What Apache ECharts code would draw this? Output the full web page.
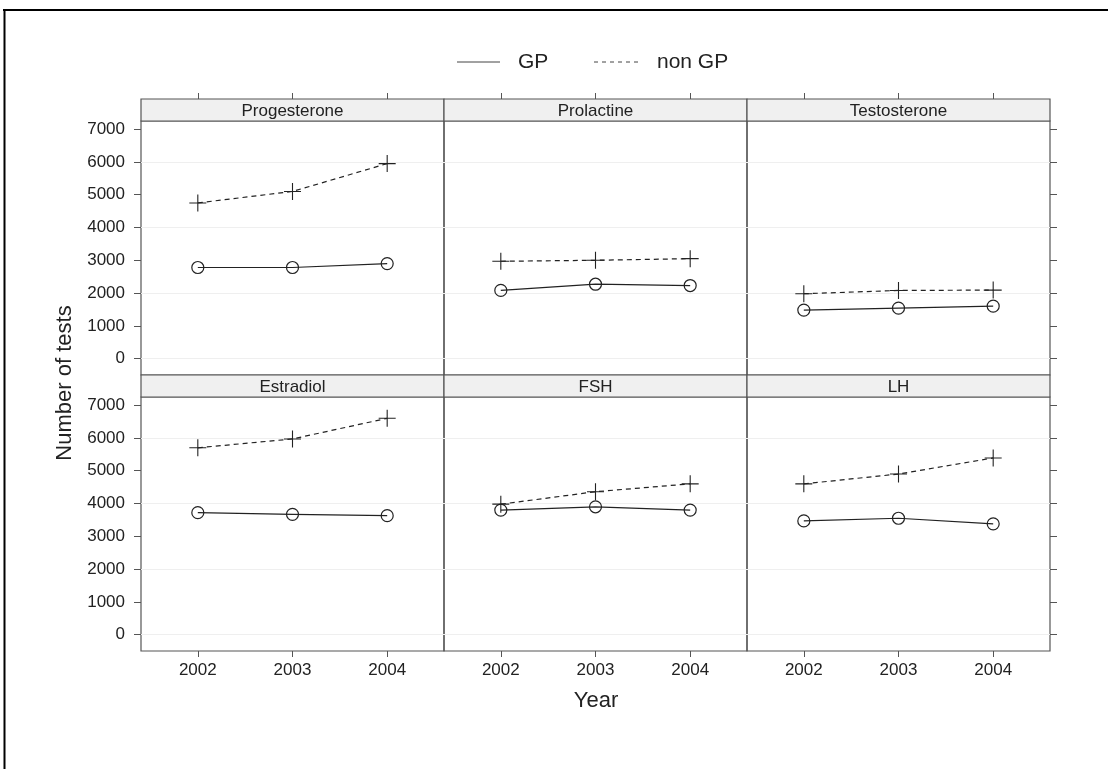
<!DOCTYPE html>
<html>
<head>
<meta charset="utf-8">
<script src="https://cdn.jsdelivr.net/npm/echarts@6/dist/echarts.min.js"></script>
<style>
  html, body { margin: 0; padding: 0; background: #ffffff; }
  #chart { width: 1108px; height: 769px; }
</style>
</head>
<body>
<div id="chart"></div>
<script>
// Yearly number of hormone tests requested by GPs and by other requesters
const years = [2002, 2003, 2004];
const yTicks = [0, 1000, 2000, 3000, 4000, 5000, 6000, 7000];
const gridValues = [0, 2000, 4000, 6000];

const gpProgesterone = [2780, 2780, 2900];
const nonGpProgesterone = [4750, 5100, 5950];
const gpProlactine = [2080, 2270, 2230];
const nonGpProlactine = [2970, 3000, 3050];
const gpTestosterone = [1480, 1540, 1600];
const nonGpTestosterone = [1980, 2080, 2090];
const gpEstradiol = [3720, 3670, 3630];
const nonGpEstradiol = [5700, 5970, 6600];
const gpFSH = [3800, 3900, 3800];
const nonGpFSH = [3980, 4360, 4600];
const gpLH = [3470, 3550, 3380];
const nonGpLH = [4600, 4900, 5390];

// panels in reading order: top row then bottom row
const panels = [
  { name: 'Progesterone', gp: gpProgesterone, nonGp: nonGpProgesterone },
  { name: 'Prolactine', gp: gpProlactine, nonGp: nonGpProlactine },
  { name: 'Testosterone', gp: gpTestosterone, nonGp: nonGpTestosterone },
  { name: 'Estradiol', gp: gpEstradiol, nonGp: nonGpEstradiol },
  { name: 'FSH', gp: gpFSH, nonGp: nonGpFSH },
  { name: 'LH', gp: gpLH, nonGp: nonGpLH }
];

const FONT = "'Liberation Sans', Arial, Helvetica, sans-serif";
const INK = '#222222';
const FRAME = '#555555';
const colLeft = [141, 444, 747];
const rowTop = [121, 397];
const panelW = 303;
const panelH = 254;
const stripH = 22;
const xMin = 2001.4, xMax = 2004.6;
const yMin = -500, yMax = 7250;
const plusPath = 'path://M0,8 L16,8 M8,0 L8,16';

const grid = [], xAxis = [], yAxis = [], series = [], graphic = [];

panels.forEach((p, i) => {
  const r = Math.floor(i / 3), c = i % 3;
  grid.push({
    left: colLeft[c], top: rowTop[r], width: panelW, height: panelH,
    show: true, borderColor: FRAME, borderWidth: 1.2, backgroundColor: 'transparent'
  });

  // bottom axis: ticks and labels only on the bottom row
  xAxis.push({
    type: 'value', gridIndex: i, min: xMin, max: xMax, position: 'bottom',
    axisLine: { show: false, onZero: false },
    splitLine: { show: false },
    axisTick: { show: r === 1, length: 6, lineStyle: { color: FRAME }, customValues: years },
    axisLabel: {
      show: r === 1, customValues: years, margin: 11,
      color: INK, fontSize: 17, fontFamily: FONT, formatter: v => String(v)
    }
  });
  // top ticks above the strips of the top row
  xAxis.push({
    type: 'value', gridIndex: i, min: xMin, max: xMax, position: 'top',
    offset: stripH,
    axisLine: { show: false, onZero: false },
    splitLine: { show: false },
    axisTick: { show: r === 0, length: 6, lineStyle: { color: FRAME }, customValues: years },
    axisLabel: { show: false }
  });

  const leftCol = c === 0, rightCol = c === 2;
  yAxis.push({
    type: 'value', gridIndex: i, min: yMin, max: yMax,
    position: rightCol ? 'right' : 'left',
    axisLine: { show: false, onZero: false },
    splitLine: { show: false },
    axisTick: { show: leftCol || rightCol, length: 7, lineStyle: { color: FRAME }, customValues: yTicks },
    axisLabel: {
      show: leftCol, customValues: yTicks, margin: 16,
      color: INK, fontSize: 17, fontFamily: FONT, formatter: v => String(v)
    }
  });

  const xi = i * 2;
  series.push({
    name: 'GP', type: 'line', xAxisIndex: xi, yAxisIndex: i,
    data: years.map((y, k) => [y, p.gp[k]]),
    symbol: 'circle', symbolSize: 12,
    lineStyle: { color: INK, width: 1.2, type: 'solid' },
    itemStyle: { color: 'rgba(0,0,0,0)', borderColor: INK, borderWidth: 1.2 },
    emphasis: { disabled: true },
    z: 3,
    markLine: {
      silent: true, symbol: 'none', label: { show: false }, animation: false,
      lineStyle: { color: '#efefef', width: 1, type: 'solid' },
      data: gridValues.map(v => ({ yAxis: v })),
      z: 1
    }
  });
  series.push({
    name: 'non GP', type: 'line', xAxisIndex: xi, yAxisIndex: i,
    data: years.map((y, k) => [y, p.nonGp[k]]),
    symbol: plusPath, symbolSize: 17,
    lineStyle: { color: INK, width: 1.2, type: [5, 4] },
    itemStyle: { color: 'none', borderColor: INK, borderWidth: 1.1 },
    emphasis: { disabled: true },
    z: 3
  });

  // strip with the hormone name
  graphic.push({
    type: 'rect', z: 10,
    shape: { x: colLeft[c], y: rowTop[r] - stripH, width: panelW, height: stripH },
    style: { fill: '#f0f0f0', stroke: FRAME, lineWidth: 1.2 }
  });
  graphic.push({
    type: 'text', z: 11,
    x: colLeft[c] + panelW / 2, y: rowTop[r] - stripH / 2 + 1,
    style: {
      text: p.name, fill: INK, font: '17px ' + FONT,
      align: 'center', verticalAlign: 'middle'
    }
  });
});

// legend
graphic.push(
  { type: 'line', shape: { x1: 457, y1: 62, x2: 500, y2: 62 }, style: { stroke: '#444', lineWidth: 1 } },
  { type: 'text', x: 518, y: 62, style: { text: 'GP', fill: INK, font: '21px ' + FONT, verticalAlign: 'middle' } },
  { type: 'line', shape: { x1: 594, y1: 62, x2: 640, y2: 62 }, style: { stroke: '#444', lineWidth: 1, lineDash: [4, 4] } },
  { type: 'text', x: 657, y: 62, style: { text: 'non GP', fill: INK, font: '21px ' + FONT, verticalAlign: 'middle' } }
);

// axis titles
graphic.push(
  { type: 'text', x: 65, y: 383, rotation: Math.PI / 2,
    style: { text: 'Number of tests', fill: INK, font: '22px ' + FONT, align: 'center', verticalAlign: 'middle' } },
  { type: 'text', x: 596, y: 701,
    style: { text: 'Year', fill: INK, font: '22px ' + FONT, align: 'center', verticalAlign: 'middle' } }
);

// outer frame edges
graphic.push(
  { type: 'line', shape: { x1: 3, y1: 10, x2: 1108, y2: 10 }, style: { stroke: '#000', lineWidth: 2 } },
  { type: 'line', shape: { x1: 4.5, y1: 9, x2: 4.5, y2: 769 }, style: { stroke: '#000', lineWidth: 2 } }
);

const chart = echarts.init(document.getElementById('chart'), null, { renderer: 'canvas' });
chart.setOption({
  backgroundColor: '#ffffff',
  animation: false,
  grid, xAxis, yAxis, series, graphic
});
</script>
</body>
</html>
